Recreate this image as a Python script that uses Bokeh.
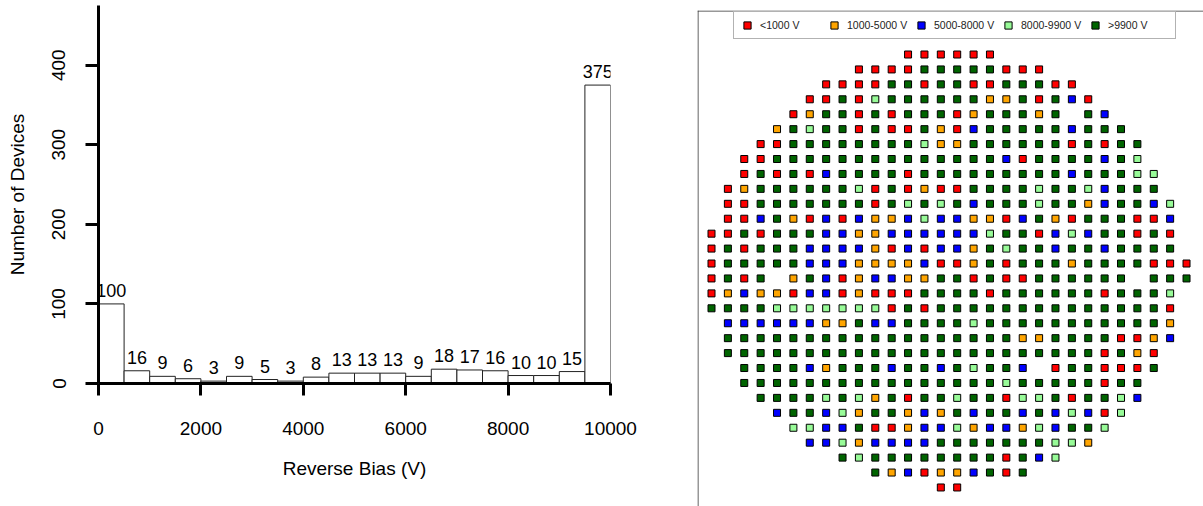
from bokeh.plotting import figure
from bokeh.models import (Range1d, FixedTicker, Span, Legend, LegendItem,
                          ColumnDataSource, LabelSet)
from bokeh.layouts import row
from bokeh.embed import file_html
from bokeh.resources import INLINE
from bokeh.core.properties import value

FONT = "Liberation Sans"

# ---------------- breakdown histogram ----------------
bin_edges = [0, 500, 1000, 1500, 2000, 2500, 3000, 3500, 4000, 4500, 5000,
             5500, 6000, 6500, 7000, 7500, 8000, 8500, 9000, 9500, 10000, 10500]
device_counts = [100, 16, 9, 6, 3, 9, 5, 3, 8, 13, 13, 13, 9, 18, 17, 16, 10, 10, 15, 375, 0]
x_ticks = [0, 2000, 4000, 6000, 8000, 10000]
y_ticks = [0, 100, 200, 300, 400]

# ---------------- wafer map ----------------
# R <1000, O 1000-5000, B 5000-8000, L 8000-9900, G >9900, "." untested site
category_codes = ["R", "O", "B", "L", "G"]
category_labels = ["<1000 V", "1000-5000 V", "5000-8000 V", "8000-9900 V", ">9900 V"]
category_colors = ["#ff0000", "#ffa500", "#0000ff", "#98fb98", "#006400"]

# (first column, die results) for each wafer row, top to bottom
wafer_rows = [
    (12, "RRRRRR"),
    (9, "RRRRGGGGGRRR"),
    (7, "RRRRGGRGGRRGGGRR"),
    (6, "RRGRLGGGGGGOOGRGBR"),
    (5, "ROGGRGRGGGROGGGOG.GB"),
    (4, "OGLGGRGRRGORBGGGGGBGGG"),
    (3, "RRGGGGGGGGLOOGGGGGGRGRGG"),
    (2, "RRGGGGGGGGGGGGGGBRGGGGBGL"),
    (2, "RGRGRBGGGGRGGGGGGGGGBGGGLL"),
    (1, "ROGGGGGGLRGRORRGGGGLGGLBGGG"),
    (1, "RRGGGGGGGRGLGLGBGGGLGGOBGGBL"),
    (1, "RRBGORBRBOOBLBBOORBGORGGGRRB"),
    (0, "RRGRGGGBBOOBBBBBBLGGRBLBGGRGR"),
    (0, "RGRGGGBBBBORBRBBOGLGGBGGBGGGG"),
    (0, "RGGGGGBBBOOOOBRROGRGGGOGGGGRRR"),
    (0, "RGRG.OGBROBBOOGGRGRRGGGGGG.GGG"),
    (0, "ROBOORBBRORRRGGGGRGGGGGGRGGGL"),
    (0, "GGGGLLLLLLLRGRGGGGGGGGGGGGGGR"),
    (1, "BBBBBBOOGBBGGGGLGGGGGGGGGGGO"),
    (1, "GGGGGGGGGGGGGGGGGGOOGGGGRROB"),
    (1, "GGGGGGGGGGGGGGGGGGGGGGGRGOR"),
    (2, "GGGGBOGGGBGGBGLGGB.RGGRRRG"),
    (2, "GGGGGGGGGGGGGGGGLGGGGGRGG"),
    (3, "GGGGLGLOGRGGLGGRLLGRGGLB"),
    (4, "BGGBLOGGOBOGBGGBGBLBRL"),
    (5, "LLBBGRROBBLOBBOLBGGL"),
    (6, "BBLOBBBBGGGGGGGLLO"),
    (8, "GLGGGGGGGGRGBL"),
    (10, "GOBROOBGRG"),
    (14, "RR"),
]

# ================= histogram panel =================
hist = figure(width=697, height=506,
              x_range=Range1d(0, 10000), y_range=Range1d(0, 475),
              output_backend="svg", toolbar_location=None,
              min_border_left=98, min_border_right=87,
              min_border_top=5, min_border_bottom=123,
              outline_line_color=None, background_fill_color="white",
              border_fill_color="white", frame_align=False)
hist.grid.visible = False

lefts = bin_edges[:-1]
rights = bin_edges[1:]
mids = [(a + b) / 2 for a, b in zip(lefts, rights)]
src = ColumnDataSource(dict(left=lefts, right=rights, top=device_counts, mid=mids,
                            label=[str(c) for c in device_counts]))
hist.quad(left="left", right="right", bottom=0, top="top", source=src,
          fill_color="white", line_color="#222222", line_width=1)
hist.add_layout(LabelSet(x="mid", y="top", text="label", source=src,
                         text_align="center", text_baseline="alphabetic", y_offset=7,
                         text_font=value(FONT), text_font_size=value("18px"),
                         text_color=value("black")))

for ax in (hist.xaxis[0], hist.yaxis[0]):
    ax.axis_line_width = 3
    ax.axis_line_color = "black"
    ax.major_tick_line_width = 3
    ax.major_tick_line_color = "black"
    ax.major_tick_in = 0
    ax.minor_tick_line_color = None
    ax.major_label_text_font = FONT
    ax.major_label_text_font_size = "19px"
    ax.major_label_text_color = "black"
    ax.axis_label_text_font = FONT
    ax.axis_label_text_font_size = "19px"
    ax.axis_label_text_font_style = "normal"
    ax.axis_label_text_color = "black"

xa = hist.xaxis[0]
xa.ticker = FixedTicker(ticks=x_ticks)
xa.major_tick_out = 12
xa.major_label_standoff = 26
xa.axis_label = "Reverse Bias (V)"
xa.axis_label_standoff = 20

ya = hist.yaxis[0]
ya.ticker = FixedTicker(ticks=y_ticks)
ya.major_tick_out = 13
ya.major_label_orientation = "vertical"
ya.major_label_standoff = 20
ya.axis_label = "Number of Devices"
ya.axis_label_standoff = 22

# ================= wafer map panel =================
X_STEP = 16.38   # px between die columns
Y_STEP = 14.93   # px between die rows
PANEL_W, PANEL_H, PANEL_TOP = 506, 496, 10
x0 = -14 / X_STEP
y_top = -44 / Y_STEP
wafer = figure(width=PANEL_W, height=PANEL_H + PANEL_TOP,
               x_range=Range1d(x0, x0 + PANEL_W / X_STEP),
               y_range=Range1d(y_top + PANEL_H / Y_STEP, y_top),
               output_backend="svg", toolbar_location=None,
               x_axis_location=None, y_axis_location=None,
               min_border_left=0, min_border_right=0,
               min_border_top=PANEL_TOP, min_border_bottom=0,
               outline_line_color=None, background_fill_color="white",
               border_fill_color="white", frame_align=False)
wafer.grid.visible = False

# panel frame (top and left edges)
wafer.add_layout(Span(location=y_top + 0.5 / Y_STEP, dimension="width",
                      line_color="#333333", line_width=1))
wafer.add_layout(Span(location=x0 + 0.5 / X_STEP, dimension="height",
                      line_color="#333333", line_width=1))

items = []
for code, label, color in zip(category_codes, category_labels, category_colors):
    xs, ys = [], []
    for r, (c0, dies) in enumerate(wafer_rows):
        for k, ch in enumerate(dies):
            if ch == code:
                xs.append(c0 + k)
                ys.append(r)
    rend = wafer.scatter(x=xs, y=ys, marker="square", size=7,
                         fill_color=color, line_color="black", line_width=1)
    items.append(LegendItem(label=label, renderers=[rend]))

legend = Legend(items=items, orientation="horizontal", location=(36, 467),
                margin=0, padding=4, spacing=2,
                glyph_width=18, glyph_height=18,
                label_standoff=4, label_width=63, label_height=18,
                label_text_font=FONT, label_text_font_size="10.5px",
                label_text_color="#222222", label_text_baseline="middle",
                border_line_color="#666666", border_line_width=1.5,
                background_fill_color="white", background_fill_alpha=1.0)
wafer.add_layout(legend)

page = row(hist, wafer, spacing=0)
open("out.html", "w").write(file_html(page, INLINE))
